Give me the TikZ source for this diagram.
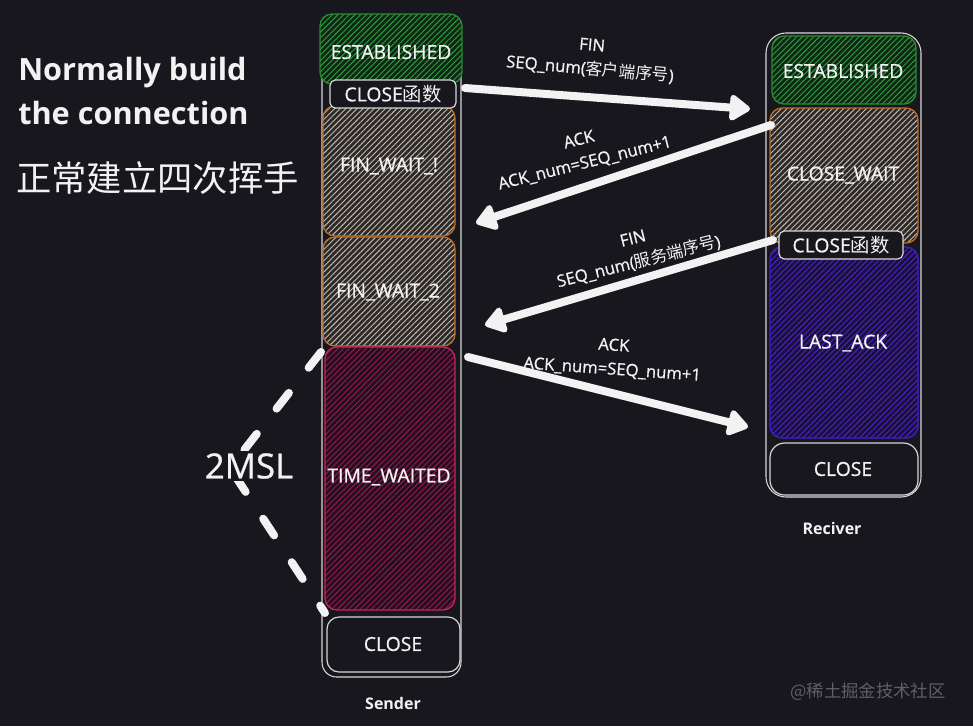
\documentclass[tikz,border=0pt]{standalone}
\usepackage{fontspec}
\setmainfont{Open Sans}
\newfontfamily\cjk{Noto Sans CJK SC}
\newfontfamily\heavy[FakeBold=0.8]{Open Sans}
\usetikzlibrary{arrows.meta,patterns.meta,fit}
\definecolor{bg}{RGB}{24,23,29}
\definecolor{ink}{RGB}{242,242,242}
\definecolor{outline}{RGB}{215,215,215}
\definecolor{grnbase}{RGB}{14,40,18}
\definecolor{grnline}{RGB}{47,158,68}
\definecolor{grnedge}{RGB}{40,140,55}
\definecolor{orbase}{RGB}{45,41,40}
\definecolor{orline}{RGB}{195,187,175}
\definecolor{oredge}{RGB}{190,110,35}
\definecolor{crbase}{RGB}{38,14,32}
\definecolor{crline}{RGB}{150,25,80}
\definecolor{credge}{RGB}{194,37,92}
\definecolor{pubase}{RGB}{26,16,60}
\definecolor{puline}{RGB}{75,35,200}
\definecolor{puedge}{RGB}{60,30,210}
\definecolor{wm}{RGB}{95,95,100}
\begin{document}
\begin{tikzpicture}[x=0.75pt,y=-0.75pt,
  colbox/.style={draw=outline, line width=0.8pt, rounded corners=11pt, inner sep=0pt},
  state/.style={rounded corners=9pt, line width=1pt, inner sep=0pt},
  stext/.style={text=ink, inner sep=0pt, font=\heavy\fontsize{14.5}{17}\selectfont},
  hatch/.style={pattern={Lines[angle=45,distance=3pt,line width=0.7pt]}},
  greenst/.style={state, draw=grnedge, preaction={fill=grnbase}, hatch, pattern color=grnline},
  orangest/.style={state, draw=oredge, preaction={fill=orbase}, hatch, pattern color=orline},
  crimsonst/.style={state, draw=credge, preaction={fill=crbase}, hatch, pattern color=crline},
  purplest/.style={state, draw=puedge, preaction={fill=pubase}, hatch, pattern color=puline},
  darkbox/.style={draw=outline, fill=bg, line width=0.9pt, inner sep=0pt},
  arr/.style={draw=ink, line width=6pt, line cap=round,
    -{Triangle[length=17pt,width=22pt,round]}},
  msl/.style={draw=ink, line width=6pt, line cap=round, line join=round,
    dash pattern=on 15pt off 24pt},
  lbl/.style={text=ink, align=center, inner sep=1pt,
    font=\heavy\fontsize{12.5}{18}\selectfont},
  title/.style={text=ink, anchor=west, inner sep=0pt, font=\fontsize{23}{30}\selectfont\bfseries},
  caption/.style={text=ink, inner sep=0pt, font=\fontsize{12}{14}\selectfont\bfseries}
]
\fill[bg] (0,0) rectangle (973,726);
\useasboundingbox (0,0) rectangle (973,726);

% titles
\node[title] (t1) at (18,73) {Normally build};
\node[title] (t2) at (18,113) {the connection};
\node[text=ink, anchor=west, inner sep=0pt, font=\cjk\fontsize{26.5}{30}\selectfont] (t3) at (16,178) {正常建立四次挥手};

% sender column
\node[colbox, fit={(322,18) (461,677)}] (scol) {};
\node[greenst, fit={(320,14) (462,84)}] (sest) {};
\node[stext] (sestt) at (391,52) {ESTABLISHED};
\node[orangest, fit={(323,106) (455,236)}] (sfw1) {};
\node[stext] (sfw1t) at (389,166) {FIN\_WAIT\_!};
\node[orangest, fit={(323,237) (455,346)}] (sfw2) {};
\node[stext] (sfw2t) at (388,292) {FIN\_WAIT\_2};
\node[crimsonst, fit={(325,347) (455,610)}] (stw) {};
\node[stext] (stwt) at (389,477) {TIME\_WAITED};
\node[darkbox, rounded corners=4pt, fit={(330,80) (456,108)}] (sclosefn) {};
\node[stext] (sclosefnt) at (393,94) {CLOSE{\cjk 函数}};
\node[darkbox, rounded corners=9pt, fit={(327,617) (460,672)}] (sclose) {};
\node[stext] (scloset) at (393,644) {CLOSE};
\node[caption] (slab) at (393,703) {Sender};

% receiver column
\node[colbox, rounded corners=15pt, fit={(766,33) (921,497)}] (rcol) {};
\node[greenst, fit={(772,36) (916,104)}] (rest) {};
\node[stext] (restt) at (843,71) {ESTABLISHED};
\node[orangest, fit={(770,108) (918,243)}] (rcw) {};
\node[stext] (rcwt) at (843,175) {CLOSE\_WAIT};
\node[purplest, fit={(770,247) (918,438)}] (rla) {};
\node[stext] (rlat) at (843,343) {LAST\_ACK};
\node[darkbox, rounded corners=4pt, fit={(779,231) (903,259)}] (rclosefn) {};
\node[stext] (rclosefnt) at (841,245) {CLOSE{\cjk 函数}};
\node[darkbox, rounded corners=11pt, fit={(770,443) (918,495)}] (rclose) {};
\node[stext] (rcloset) at (843,469) {CLOSE};
\node[caption] (rlab) at (832,528) {Reciver};

% arrow end points
\coordinate (a1s) at (465,88);  \coordinate (a1e) at (750,109);
\coordinate (a2s) at (771,125); \coordinate (a2e) at (476,223);
\coordinate (a3s) at (773,240); \coordinate (a3e) at (485,325);
\coordinate (a4s) at (468,357); \coordinate (a4e) at (748,427);
\draw[arr] (a1s) -- (a1e);
\draw[arr] (a2s) -- (a2e);
\draw[arr] (a3s) -- (a3e);
\draw[arr] (a4s) -- (a4e);

\node[lbl, rotate=-5] (l1) at (591,58) {FIN\\SEQ\_num({\cjk 客户端序号})};
\node[lbl, rotate=14] (l2) at (582,152) {ACK\\ACK\_num=SEQ\_num+1};
\node[lbl, rotate=14] (l3) at (636,251) {FIN\\SEQ\_num({\cjk 服务端序号})};
\node[lbl, rotate=-4] (l4) at (613,358) {ACK\\ACK\_num=SEQ\_num+1};

% 2MSL
\coordinate (dA) at (321,352);
\coordinate (dB) at (230,468);
\coordinate (dC) at (325,613);
\draw[msl] (dA) -- (dB) -- (dC);
\node[text=ink, fill=bg, inner sep=2pt, font=\heavy\fontsize{26}{30}\selectfont] (msl) at (249,466) {2MSL};

% watermark
\node[text=wm, inner sep=0pt, font=\cjk\fontsize{13}{15}\selectfont] (wmk) at (868,692) {@稀土掘金技术社区};
\end{tikzpicture}
\end{document}
